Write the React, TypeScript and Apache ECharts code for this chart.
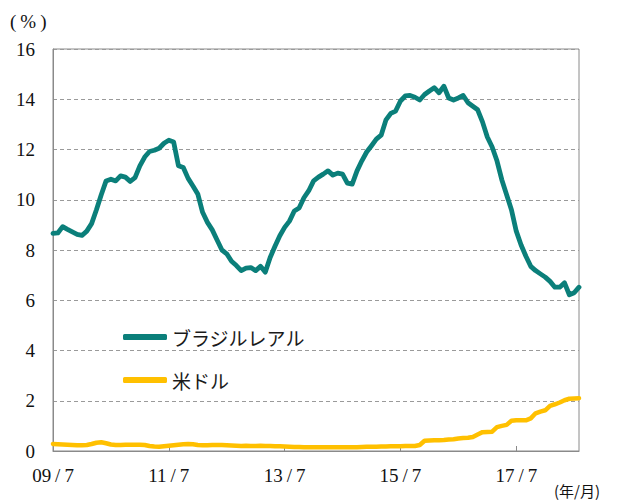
import React, { useEffect, useRef } from "react";
import * as echarts from "echarts";

const START_YEAR = 2009;
const START_MONTH = 7;

const brlRates = [
  8.66, 8.68, 8.93, 8.82, 8.72, 8.62, 8.58, 8.75, 9.05, 9.6,
  10.2, 10.75, 10.82, 10.75, 10.95, 10.9, 10.73, 10.88, 11.35, 11.7,
  11.92, 11.97, 12.05, 12.25, 12.37, 12.3, 11.35, 11.28, 10.85, 10.55,
  10.23, 9.5, 9.1, 8.8, 8.4, 8.0, 7.85, 7.55, 7.38, 7.18,
  7.28, 7.3, 7.18, 7.35, 7.12, 7.7, 8.15, 8.57, 8.9, 9.15,
  9.55, 9.67, 10.08, 10.36, 10.75, 10.9, 11.02, 11.15, 10.98, 11.06,
  11.02, 10.66, 10.62, 11.15, 11.55, 11.9, 12.15, 12.41, 12.57, 13.18,
  13.44, 13.53, 13.93, 14.13, 14.15, 14.08, 13.97, 14.19, 14.33, 14.46,
  14.26, 14.52, 14.05, 13.97, 14.05, 14.15, 13.86, 13.72, 13.58, 13.1,
  12.5, 12.1, 11.55, 10.8, 10.2, 9.6, 8.75, 8.2, 7.75, 7.35,
  7.18, 7.05, 6.92, 6.75, 6.52, 6.52, 6.69, 6.22, 6.3, 6.52,
];

const usdRates = [
  0.28, 0.27, 0.26, 0.25, 0.24, 0.23, 0.23, 0.24, 0.28, 0.33,
  0.35, 0.31, 0.26, 0.24, 0.24, 0.25, 0.25, 0.25, 0.25, 0.24,
  0.2, 0.18, 0.17, 0.19, 0.21, 0.23, 0.25, 0.27, 0.28, 0.27,
  0.24, 0.23, 0.23, 0.24, 0.24, 0.24, 0.23, 0.22, 0.21, 0.2,
  0.21, 0.2, 0.2, 0.21, 0.2, 0.2, 0.19, 0.19, 0.18, 0.17,
  0.16, 0.16, 0.15, 0.15, 0.15, 0.15, 0.15, 0.15, 0.15, 0.15,
  0.15, 0.15, 0.15, 0.15, 0.16, 0.17, 0.17, 0.17, 0.18, 0.18,
  0.19, 0.19, 0.19, 0.2, 0.2, 0.2, 0.24, 0.41, 0.42, 0.43,
  0.43, 0.44, 0.46, 0.47, 0.5, 0.52, 0.53, 0.56, 0.66, 0.75,
  0.76, 0.77, 0.95, 1.0, 1.04, 1.2, 1.22, 1.22, 1.22, 1.3,
  1.5, 1.57, 1.62, 1.8, 1.86, 1.93, 2.02, 2.08, 2.09, 2.1,
];

const seriesNames = ["ブラジルレアル", "米ドル"];
const seriesColors = ["#0b7f7a", "#ffc000"];

const months: string[] = brlRates.map((_, i) => {
  const t = START_MONTH - 1 + i;
  const y = START_YEAR + Math.floor(t / 12);
  const m = (t % 12) + 1;
  return `${String(y % 100).padStart(2, "0")}/${m}`;
});

const SERIF = "Times New Roman, Liberation Serif, serif";
const JP = "Noto Sans CJK JP";

export default function App() {
  const ref = useRef<HTMLDivElement>(null);
  useEffect(() => {
    if (!ref.current) return;
    const chart = echarts.init(ref.current, undefined, { renderer: "svg" });
    const showEvery = (i: number) => i % 24 === 0;
    chart.setOption({
      animation: false,
      backgroundColor: "#ffffff",
      textStyle: { fontFamily: SERIF },
      grid: {
        left: 53,
        right: 39,
        top: 49,
        bottom: 49,
        show: true,
        borderColor: "#8a8a8a",
        borderWidth: 1,
      },
      legend: {
        orient: "vertical",
        left: 123,
        top: 327,
        padding: 0,
        itemWidth: 44,
        itemHeight: 6,
        itemGap: 23,
        icon: "roundRect",
        textStyle: { fontFamily: JP, fontSize: 19, color: "#1a1a1a", lineHeight: 20 },
        data: seriesNames,
      },
      xAxis: {
        type: "category",
        data: months,
        boundaryGap: false,
        axisLine: { lineStyle: { color: "#8a8a8a", width: 1 } },
        axisTick: {
          inside: true,
          length: 5,
          interval: showEvery,
          lineStyle: { color: "#8a8a8a" },
        },
        axisLabel: {
          interval: showEvery,
          margin: 15,
          color: "#111",
          fontFamily: SERIF,
          fontSize: 19,
          formatter: (v: string) => {
            const [a, b] = v.split("/");
            return `{n|${a}}{s|/}{n|${b}}`;
          },
          rich: {
            n: { fontFamily: SERIF, fontSize: 19, color: "#111" },
            s: { fontFamily: SERIF, fontSize: 19, color: "#111", padding: [0, 4] },
          },
        },
        splitLine: { show: false },
      },
      yAxis: {
        type: "value",
        min: 0,
        max: 16,
        interval: 2,
        axisLine: { show: true, lineStyle: { color: "#8a8a8a", width: 1 } },
        axisTick: { show: false },
        axisLabel: {
          margin: 18,
          color: "#111",
          fontFamily: SERIF,
          fontSize: 19,
          padding: [3, 0, 0, 0],
        },
        splitLine: { lineStyle: { type: [4, 3], color: "#9a9a9a", width: 1 } },
      },
      graphic: [
        {
          type: "text",
          left: 10,
          top: 12,
          style: {
            text: "{p|(}{c|%}{p|)}",
            rich: {
              p: { fontFamily: SERIF, fontSize: 19, fill: "#111" },
              c: { fontFamily: SERIF, fontSize: 19, fill: "#111", padding: [0, 4] },
            },
          },
        },
        {
          type: "text",
          left: 554,
          top: 483,
          style: { text: "(年/月)", fontFamily: JP, fontSize: 15, fill: "#111" },
        },
      ],
      series: [
        {
          name: seriesNames[0],
          type: "line",
          data: brlRates,
          showSymbol: false,
          symbol: "none",
          color: seriesColors[0],
          lineStyle: { width: 4.8, color: seriesColors[0], join: "round", cap: "round" },
          z: 3,
        },
        {
          name: seriesNames[1],
          type: "line",
          data: usdRates,
          showSymbol: false,
          symbol: "none",
          color: seriesColors[1],
          lineStyle: { width: 4.5, color: seriesColors[1], join: "round", cap: "round" },
          z: 2,
        },
      ],
    });
    return () => chart.dispose();
  }, []);
  return (
    <div
      ref={ref}
      style={{ position: "absolute", left: 0, top: 0, width: 618, height: 500, background: "#fff" }}
    />
  );
}
